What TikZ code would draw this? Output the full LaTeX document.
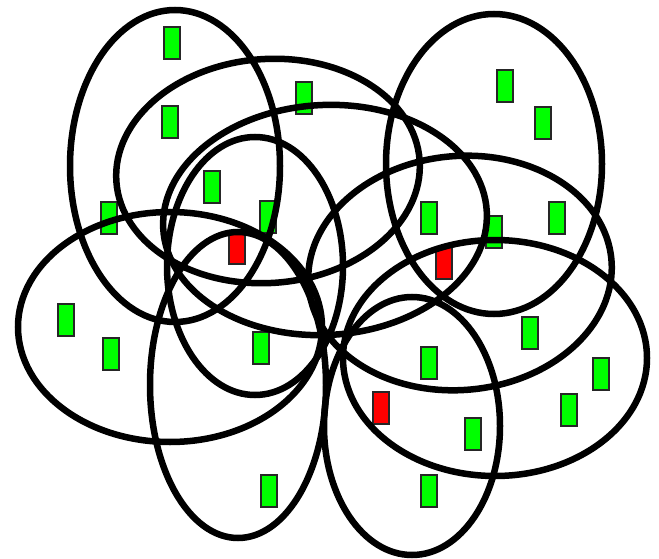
\documentclass[tikz,border=0pt]{standalone}
\begin{document}
\begin{tikzpicture}[x=1pt,y=-1pt,
  vtx/.style={draw=black!85,line width=2pt,minimum width=16pt,minimum height=32pt,inner sep=0pt},
  gv/.style={vtx,fill={rgb,255:red,0;green,255;blue,0}},
  rv/.style={vtx,fill={rgb,255:red,255;green,0;blue,0}},
  ring/.style={draw=black,line width=6.5pt}]
\useasboundingbox (0,0) rectangle (659,559);
% vertices
\node[gv] (v1) at (172,43) {};
\node[gv] (v2) at (170,122) {};
\node[gv] (v3) at (304,98) {};
\node[gv] (v4) at (212,187) {};
\node[gv] (v5) at (109,218) {};
\node[gv] (v6) at (268,217) {};
\node[rv] (v7) at (237,248) {};
\node[gv] (v8) at (505,86) {};
\node[gv] (v9) at (543,123) {};
\node[gv] (v10) at (429,218) {};
\node[gv] (v11) at (494,232) {};
\node[gv] (v12) at (557,218) {};
\node[rv] (v13) at (444,263) {};
\node[gv] (v14) at (66,320) {};
\node[gv] (v15) at (111,354) {};
\node[gv] (v16) at (261,348) {};
\node[gv] (v17) at (269,491) {};
\node[gv] (v18) at (530,333) {};
\node[gv] (v19) at (429,363) {};
\node[gv] (v20) at (601,374) {};
\node[rv] (v21) at (381,408) {};
\node[gv] (v22) at (473,434) {};
\node[gv] (v23) at (569,410) {};
\node[gv] (v24) at (429,491) {};
% hyperedges
\draw[ring] (175,166) ellipse [x radius=105pt, y radius=156pt];
\draw[ring, rotate around={4:(268,171)}] (268,171) ellipse [x radius=152pt, y radius=112pt];
\draw[ring, rotate around={3:(325,220)}] (325,220) ellipse [x radius=162pt, y radius=115pt];
\draw[ring] (255,266) ellipse [x radius=88pt, y radius=129pt];
\draw[ring] (494,164) ellipse [x radius=108pt, y radius=150pt];
\draw[ring, rotate around={5:(460,273)}] (460,273) ellipse [x radius=152pt, y radius=117pt];
\draw[ring] (495,358) ellipse [x radius=152pt, y radius=118pt];
\draw[ring] (412,426) ellipse [x radius=88pt, y radius=129pt];
\draw[ring] (238,385) ellipse [x radius=88pt, y radius=153pt];
\draw[ring] (170,327) ellipse [x radius=152pt, y radius=115pt];
\end{tikzpicture}
\end{document}
